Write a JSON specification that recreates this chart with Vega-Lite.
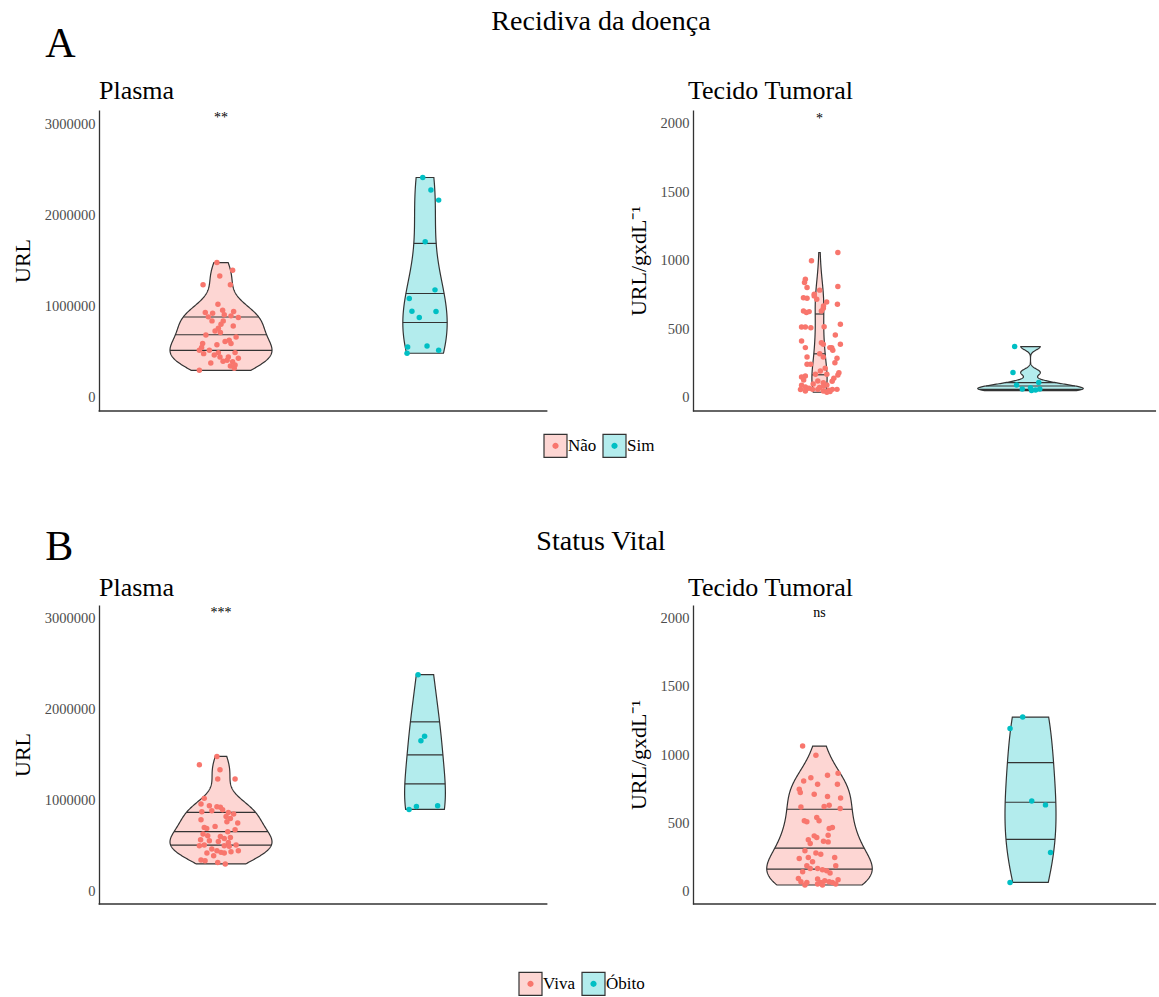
{
"$schema": "https://vega.github.io/schema/vega-lite/v6.json",
"padding": {"left": 11, "top": 8, "right": 0, "bottom": 0},
"background": "white",
"config": {
  "view": {"stroke": null},
  "font": "Liberation Serif",
  "title": {"font": "Liberation Serif", "fontWeight": "normal", "color": "#000000", "baseline": "alphabetic"},
  "axis": {"grid": false, "ticks": false, "labelFont": "Liberation Serif", "labelFontSize": 14.5, "labelColor": "#4D4D4D", "titleFont": "Liberation Serif", "titleFontSize": 22, "titleFontWeight": "normal", "titleColor": "#000000", "domainColor": "#333333", "domainWidth": 1.3},
  "legend": {"labelFont": "Liberation Serif"}
},
"datasets": {
  "AP": [
    {"g":"Não","q1":520000,"q2":688000,"q3":886000},{"g":"Sim","q1":823000,"q2":1146000,"q3":1690000},
    {"g":"Não","v":1481000,"j":-0.02},{"g":"Não","v":1398000,"j":0.057},{"g":"Não","v":1335000,"j":-0.006},{"g":"Não","v":1237000,"j":-0.088},{"g":"Não","v":1237000,"j":0.046},
    {"g":"Não","v":1025000,"j":-0.015},{"g":"Não","v":933000,"j":-0.077},{"g":"Não","v":926000,"j":-0.041},{"g":"Não","v":959000,"j":0.008},{"g":"Não","v":944000,"j":0.062},
    {"g":"Não","v":886000,"j":-0.062},{"g":"Não","v":908000,"j":0.016},{"g":"Não","v":878000,"j":0.085},{"g":"Não","v":897000,"j":0.049},{"g":"Não","v":842000,"j":-0.044},
    {"g":"Não","v":842000,"j":0.011},{"g":"Não","v":806000,"j":0.0},{"g":"Não","v":787000,"j":0.06},{"g":"Não","v":762000,"j":-0.013},{"g":"Não","v":732000,"j":-0.029},
    {"g":"Não","v":714000,"j":-0.003},{"g":"Não","v":688000,"j":-0.074},{"g":"Não","v":666000,"j":0.074},{"g":"Não","v":615000,"j":0.02},{"g":"Não","v":593000,"j":0.049},
    {"g":"Não","v":593000,"j":-0.09},{"g":"Não","v":549000,"j":-0.095},{"g":"Não","v":520000,"j":-0.106},{"g":"Não","v":520000,"j":-0.057},{"g":"Não","v":483000,"j":-0.085},
    {"g":"Não","v":469000,"j":-0.033},{"g":"Não","v":447000,"j":-0.005},{"g":"Não","v":494000,"j":-0.013},{"g":"Não","v":447000,"j":0.036},{"g":"Não","v":494000,"j":0.069},
    {"g":"Não","v":432000,"j":0.085},{"g":"Não","v":410000,"j":0.03},{"g":"Não","v":395000,"j":0.057},{"g":"Não","v":348000,"j":0.046},{"g":"Não","v":323000,"j":0.065},
    {"g":"Não","v":300000,"j":-0.106},{"g":"Não","v":359000,"j":0.069},{"g":"Não","v":630000,"j":0.04},{"g":"Não","v":580000,"j":-0.02},{"g":"Não","v":400000,"j":0.01},
    {"g":"Não","v":380000,"j":-0.05},
    {"g":"Sim","v":2414000,"j":-0.011},{"g":"Sim","v":2276000,"j":0.029},{"g":"Sim","v":2166000,"j":0.067},{"g":"Sim","v":1709000,"j":0.001},{"g":"Sim","v":1182000,"j":0.049},
    {"g":"Sim","v":1087000,"j":-0.077},{"g":"Sim","v":948000,"j":-0.064},{"g":"Sim","v":944000,"j":0.054},{"g":"Sim","v":878000,"j":-0.028},{"g":"Sim","v":556000,"j":-0.085},
    {"g":"Sim","v":567000,"j":0.01},{"g":"Sim","v":520000,"j":0.067},{"g":"Sim","v":487000,"j":-0.088}
  ],
  "AT": [
    {"g":"Não","q1":170,"q2":322,"q3":612},{"g":"Sim","q1":61,"q2":86,"q3":110},
    {"g":"Não","v":1000,"j":-0.038},{"g":"Não","v":866,"j":-0.067},{"g":"Não","v":841,"j":-0.071},{"g":"Não","v":805,"j":-0.059},{"g":"Não","v":756,"j":-0.025},
    {"g":"Não","v":731,"j":-0.076},{"g":"Não","v":727,"j":-0.059},{"g":"Não","v":720,"j":-0.013},{"g":"Não","v":634,"j":-0.076},{"g":"Não","v":622,"j":-0.062},
    {"g":"Não","v":629,"j":-0.049},{"g":"Não","v":517,"j":-0.085},{"g":"Não","v":517,"j":-0.067},{"g":"Não","v":512,"j":-0.041},{"g":"Não","v":415,"j":-0.085},
    {"g":"Não","v":366,"j":-0.067},{"g":"Não","v":298,"j":-0.059},{"g":"Não","v":244,"j":-0.042},{"g":"Não","v":244,"j":-0.059},{"g":"Não","v":159,"j":-0.067},
    {"g":"Não","v":151,"j":-0.085},{"g":"Não","v":91,"j":-0.085},{"g":"Não","v":78,"j":-0.067},{"g":"Não","v":61,"j":-0.033},{"g":"Não","v":49,"j":-0.067},
    {"g":"Não","v":786,"j":0.001},{"g":"Não","v":744,"j":-0.025},{"g":"Não","v":654,"j":0.018},{"g":"Não","v":671,"j":0.019},{"g":"Não","v":700,"j":0.034},
    {"g":"Não","v":634,"j":0.009},{"g":"Não","v":519,"j":0.022},{"g":"Não","v":402,"j":0.009},{"g":"Não","v":391,"j":0.018},{"g":"Não","v":366,"j":0.049},
    {"g":"Não","v":322,"j":0.001},{"g":"Não","v":298,"j":0.018},{"g":"Não","v":215,"j":0.027},{"g":"Não","v":195,"j":0.004},{"g":"Não","v":171,"j":0.035},
    {"g":"Não","v":171,"j":-0.019},{"g":"Não","v":122,"j":-0.008},{"g":"Não","v":110,"j":0.018},{"g":"Não","v":93,"j":0.035},{"g":"Não","v":61,"j":-0.008},
    {"g":"Não","v":49,"j":0.018},{"g":"Não","v":55,"j":0.044},
    {"g":"Não","v":1061,"j":0.087},{"g":"Não","v":812,"j":0.087},{"g":"Não","v":683,"j":0.085},{"g":"Não","v":537,"j":0.099},{"g":"Não","v":459,"j":0.075},
    {"g":"Não","v":391,"j":0.099},{"g":"Não","v":366,"j":0.058},{"g":"Não","v":347,"j":0.063},{"g":"Não","v":288,"j":0.083},{"g":"Não","v":256,"j":0.073},
    {"g":"Não","v":183,"j":0.092},{"g":"Não","v":166,"j":0.087},{"g":"Não","v":142,"j":0.068},{"g":"Não","v":61,"j":0.083},{"g":"Não","v":61,"j":0.061},
    {"g":"Não","v":40,"j":0.035},
    {"g":"Não","v":70,"j":-0.05},{"g":"Não","v":75,"j":0.0},{"g":"Não","v":45,"j":0.05},{"g":"Não","v":60,"j":-0.09},{"g":"Não","v":85,"j":0.02},
    {"g":"Não","v":100,"j":-0.03},{"g":"Não","v":120,"j":0.06},{"g":"Não","v":130,"j":-0.075},
    {"g":"Sim","v":374,"j":-0.075},{"g":"Sim","v":185,"j":-0.083},{"g":"Sim","v":93,"j":-0.066},{"g":"Sim","v":64,"j":-0.039},{"g":"Sim","v":73,"j":0.0},
    {"g":"Sim","v":52,"j":0.005},{"g":"Sim","v":112,"j":0.039},{"g":"Sim","v":64,"j":0.044},{"g":"Sim","v":56,"j":0.024}
  ],
  "BP": [
    {"g":"Viva","q1":512000,"q2":658000,"q3":869000},{"g":"Óbito","q1":1180000,"q2":1498000,"q3":1860000},
    {"g":"Viva","v":1483000,"j":-0.02},{"g":"Viva","v":1392000,"j":-0.106},{"g":"Viva","v":1337000,"j":-0.005},{"g":"Viva","v":1235000,"j":-0.016},{"g":"Viva","v":1235000,"j":0.069},
    {"g":"Viva","v":1023000,"j":-0.082},{"g":"Viva","v":961000,"j":-0.098},{"g":"Viva","v":943000,"j":-0.057},{"g":"Viva","v":932000,"j":-0.02},{"g":"Viva","v":925000,"j":-0.003},
    {"g":"Viva","v":899000,"j":0.008},{"g":"Viva","v":888000,"j":-0.045},{"g":"Viva","v":877000,"j":-0.094},{"g":"Viva","v":869000,"j":0.036},{"g":"Viva","v":851000,"j":0.062},
    {"g":"Viva","v":825000,"j":0.025},{"g":"Viva","v":803000,"j":0.046},{"g":"Viva","v":789000,"j":-0.098},{"g":"Viva","v":767000,"j":0.029},{"g":"Viva","v":753000,"j":0.082},
    {"g":"Viva","v":716000,"j":-0.029},{"g":"Viva","v":705000,"j":-0.082},{"g":"Viva","v":694000,"j":-0.07},{"g":"Viva","v":680000,"j":0.069},{"g":"Viva","v":658000,"j":0.033},
    {"g":"Viva","v":632000,"j":-0.088},{"g":"Viva","v":614000,"j":-0.065},{"g":"Viva","v":606000,"j":-0.003},{"g":"Viva","v":584000,"j":0.016},{"g":"Viva","v":595000,"j":0.046},
    {"g":"Viva","v":570000,"j":-0.1},{"g":"Viva","v":559000,"j":-0.057},{"g":"Viva","v":551000,"j":-0.013},{"g":"Viva","v":540000,"j":0.036},{"g":"Viva","v":512000,"j":-0.082},
    {"g":"Viva","v":504000,"j":-0.106},{"g":"Viva","v":504000,"j":0.016},{"g":"Viva","v":497000,"j":0.04},{"g":"Viva","v":512000,"j":0.074},{"g":"Viva","v":468000,"j":-0.045},
    {"g":"Viva","v":449000,"j":-0.02},{"g":"Viva","v":431000,"j":0.0},{"g":"Viva","v":438000,"j":0.049},{"g":"Viva","v":449000,"j":0.085},{"g":"Viva","v":424000,"j":-0.069},
    {"g":"Viva","v":395000,"j":-0.036},{"g":"Viva","v":424000,"j":0.016},{"g":"Viva","v":347000,"j":-0.098},{"g":"Viva","v":340000,"j":-0.078},{"g":"Viva","v":321000,"j":-0.016},
    {"g":"Viva","v":304000,"j":0.021},
    {"g":"Óbito","v":2379000,"j":-0.034},{"g":"Óbito","v":1655000,"j":-0.02},{"g":"Óbito","v":1703000,"j":-0.002},{"g":"Óbito","v":902000,"j":-0.078},{"g":"Óbito","v":935000,"j":-0.042},
    {"g":"Óbito","v":943000,"j":0.062}
  ],
  "BT": [
    {"g":"Viva","q1":166,"q2":317,"q3":603},{"g":"Óbito","q1":385,"q2":658,"q3":945},
    {"g":"Viva","v":1067,"j":-0.08},{"g":"Viva","v":999,"j":-0.017},{"g":"Viva","v":811,"j":-0.075},{"g":"Viva","v":835,"j":-0.041},{"g":"Viva","v":853,"j":0.038},
    {"g":"Viva","v":867,"j":0.088},{"g":"Viva","v":787,"j":-0.009},{"g":"Viva","v":750,"j":-0.096},{"g":"Viva","v":726,"j":-0.091},{"g":"Viva","v":787,"j":0.085},
    {"g":"Viva","v":714,"j":-0.025},{"g":"Viva","v":697,"j":0.038},{"g":"Viva","v":687,"j":0.1},{"g":"Viva","v":621,"j":-0.088},{"g":"Viva","v":624,"j":0.022},
    {"g":"Viva","v":634,"j":0.046},{"g":"Viva","v":609,"j":0.098},{"g":"Viva","v":519,"j":-0.072},{"g":"Viva","v":512,"j":-0.06},{"g":"Viva","v":543,"j":-0.013},
    {"g":"Viva","v":519,"j":-0.002},{"g":"Viva","v":463,"j":0.046},{"g":"Viva","v":470,"j":0.061},{"g":"Viva","v":414,"j":0.041},{"g":"Viva","v":409,"j":-0.025},
    {"g":"Viva","v":397,"j":-0.013},{"g":"Viva","v":380,"j":-0.053},{"g":"Viva","v":353,"j":-0.044},{"g":"Viva","v":370,"j":0.019},{"g":"Viva","v":365,"j":0.041},
    {"g":"Viva","v":300,"j":-0.069},{"g":"Viva","v":283,"j":-0.017},{"g":"Viva","v":275,"j":0.006},{"g":"Viva","v":243,"j":-0.096},{"g":"Viva","v":251,"j":-0.053},
    {"g":"Viva","v":219,"j":-0.033},{"g":"Viva","v":251,"j":0.072},{"g":"Viva","v":190,"j":-0.06},{"g":"Viva","v":170,"j":-0.044},{"g":"Viva","v":190,"j":0.077},
    {"g":"Viva","v":170,"j":-0.009},{"g":"Viva","v":161,"j":0.014},{"g":"Viva","v":153,"j":0.034},{"g":"Viva","v":146,"j":-0.08},{"g":"Viva","v":137,"j":0.05},
    {"g":"Viva","v":97,"j":-0.1},{"g":"Viva","v":73,"j":-0.088},{"g":"Viva","v":68,"j":-0.06},{"g":"Viva","v":49,"j":-0.069},{"g":"Viva","v":93,"j":-0.009},
    {"g":"Viva","v":68,"j":0.006},{"g":"Viva","v":80,"j":0.025},{"g":"Viva","v":56,"j":-0.009},{"g":"Viva","v":49,"j":0.014},{"g":"Viva","v":73,"j":0.046},
    {"g":"Viva","v":68,"j":0.061},{"g":"Viva","v":56,"j":0.077},{"g":"Viva","v":88,"j":0.088},
    {"g":"Óbito","v":1279,"j":-0.037},{"g":"Óbito","v":1196,"j":-0.097},{"g":"Óbito","v":665,"j":0.006},{"g":"Óbito","v":636,"j":0.071},{"g":"Óbito","v":287,"j":0.095},
    {"g":"Óbito","v":68,"j":-0.097}
  ]
},
"spacing": 66,
"resolve": {"scale": {"color": "independent", "fill": "independent"}, "legend": {"color": "independent", "fill": "independent"}},
"vconcat": [
 {
  "title": {"text": "Recidiva da doença", "anchor": "middle", "fontSize": 28, "offset": -13, "dx": 17},
  "vconcat": [
   {
    "title": {"text": "A", "anchor": "start", "fontSize": 42, "offset": 12, "dx": 34},
    "spacing": 78,
    "hconcat": [
     {
      "data": {"name": "AP"},
      "title": {"text": "Plasma", "anchor": "start", "frame": "group", "fontSize": 26, "offset": 6, "dx": -20},
      "spacing": 0,
      "bounds": "flush",
      "hconcat": [
       {
        "width": 204, "height": 301,
        "resolve": {"scale": {"x": "independent"}},
        "layer": [
         {
          "transform": [{"filter": "isValid(datum.v)"}, {"density": "v", "groupby": ["g"], "steps": 200, "resolve": "independent"}, {"stack": "density", "groupby": ["value", "g"], "offset": "center", "as": ["x0", "x1"]}],
          "mark": {"type": "area", "orient": "horizontal", "stroke": "#333333", "strokeWidth": 1.2},
          "encoding": {
           "y": {"field": "value", "type": "quantitative", "scale": {"domain": [-146000, 3154000], "nice": false, "zero": false}, "axis": {"title": "URL", "values": [0, 1000000, 2000000, 3000000], "format": "d", "offset": 20, "labelPadding": 4, "titlePadding": 10}},
           "x": {"field": "x0", "type": "quantitative", "scale": {"range": [51, 153], "nice": false, "zero": false}, "axis": null},
           "x2": {"field": "x1"},
           "color": {"field": "g", "type": "nominal", "scale": {"range": ["#FDD6D3", "#B3ECED"]}, "legend": {"title": null, "orient": "none", "legendX": 424, "legendY": 323, "direction": "horizontal", "symbolType": "square", "symbolSize": 529, "symbolStrokeWidth": 1.2, "labelFontSize": 17, "labelColor": "#000000", "labelOffset": 0, "columnPadding": 3, "padding": 0, "symbolOpacity": 1}},
           "opacity": {"condition": {"test": "datum.g == 'Não'", "value": 1}, "value": 0}
          }
         },
         {
          "transform": [
           {"joinaggregate": [{"op": "max", "field": "q1", "as": "q1"}, {"op": "max", "field": "q2", "as": "q2"}, {"op": "max", "field": "q3", "as": "q3"}], "groupby": ["g"]},
           {"filter": "isValid(datum.v)"},
           {"density": "v", "groupby": ["g", "q1", "q2", "q3"], "steps": 200, "resolve": "independent"},
           {"stack": "density", "groupby": ["value", "g"], "offset": "center", "as": ["x0", "x1"]},
           {"joinaggregate": [{"op": "min", "field": "value", "as": "vmin"}, {"op": "max", "field": "value", "as": "vmax"}], "groupby": ["g"]}
          ],
          "mark": {"type": "rule", "color": "#333333", "strokeWidth": 1.2},
          "encoding": {
           "y": {"field": "value", "type": "quantitative", "scale": {"domain": [-146000, 3154000], "nice": false, "zero": false}, "axis": {"title": "URL", "values": [0, 1000000, 2000000, 3000000], "format": "d", "offset": 20, "labelPadding": 4, "titlePadding": 10}},
           "x": {"field": "x0", "type": "quantitative", "scale": {"range": [51, 153], "nice": false, "zero": false}, "axis": null},
           "x2": {"field": "x1"},
           "strokeOpacity": {"condition": {"test": "datum.g == 'Não' && (abs(datum.value-datum.q1)<=(datum.vmax-datum.vmin)/399.9 || abs(datum.value-datum.q2)<=(datum.vmax-datum.vmin)/399.9 || abs(datum.value-datum.q3)<=(datum.vmax-datum.vmin)/399.9)", "value": 1}, "value": 0}
          }
         },
         {
          "transform": [{"filter": "datum.g == 'Não' && isValid(datum.v)"}],
          "mark": {"type": "point", "filled": true, "size": 30, "opacity": 1, "stroke": "transparent", "strokeWidth": 1.2},
          "encoding": {
           "x": {"field": "j", "type": "quantitative", "scale": {"domain": [-0.6, 0.6], "range": [-20.4, 224.4], "nice": false, "zero": false}, "axis": null},
           "y": {"field": "v", "type": "quantitative", "scale": {"domain": [-146000, 3154000], "nice": false, "zero": false}, "axis": {"title": "URL", "values": [0, 1000000, 2000000, 3000000], "format": "d", "offset": 20, "labelPadding": 4, "titlePadding": 10}},
           "fill": {"field": "g", "type": "nominal", "scale": {"domain": ["Não", "Sim"], "range": ["#F8766D", "#00BFC4"]}, "legend": {"title": null, "orient": "none", "legendX": 424, "legendY": 323, "direction": "horizontal", "symbolType": "M-1,-1M1,1M-0.27,0A0.27,0.27,0,1,0,0.27,0A0.27,0.27,0,1,0,-0.27,0Z", "symbolSize": 529, "symbolStrokeWidth": 1.2, "symbolStrokeColor": "transparent", "labelFontSize": 17, "labelColor": "transparent", "labelOffset": 0, "columnPadding": 3, "padding": 0, "symbolOpacity": 1}}
          }
         },
         {
          "transform": [{"aggregate": [{"op": "count", "as": "n"}]}],
          "mark": {"type": "rule", "color": "#333333", "strokeWidth": 1.3},
          "encoding": {
           "x": {"datum": -0.6, "type": "quantitative", "scale": {"domain": [-0.6, 0.6], "range": [-20.4, 224.4], "nice": false, "zero": false}, "axis": null},
           "x2": {"datum": 0.5},
           "y": {"datum": -146000, "type": "quantitative", "scale": {"domain": [-146000, 3154000], "nice": false, "zero": false}, "axis": {"title": "URL", "values": [0, 1000000, 2000000, 3000000], "format": "d", "offset": 20, "labelPadding": 4, "titlePadding": 10}}
          }
         },
         {
          "transform": [{"aggregate": [{"op": "count", "as": "n"}]}],
          "mark": {"type": "text", "fontSize": 14, "baseline": "alphabetic", "font": "Liberation Serif", "color": "#000000"},
          "encoding": {
           "x": {"datum": 0, "type": "quantitative", "scale": {"domain": [-0.6, 0.6], "range": [-20.4, 224.4], "nice": false, "zero": false}, "axis": null},
           "y": {"datum": 3025000, "type": "quantitative", "scale": {"domain": [-146000, 3154000], "nice": false, "zero": false}, "axis": {"title": "URL", "values": [0, 1000000, 2000000, 3000000], "format": "d", "offset": 20, "labelPadding": 4, "titlePadding": 10}},
           "text": {"value": "**"}
          }
         }
        ]
       },
       {
        "width": 204, "height": 301,
        "resolve": {"scale": {"x": "independent"}},
        "layer": [
         {
          "transform": [{"filter": "isValid(datum.v)"}, {"density": "v", "groupby": ["g"], "steps": 200, "resolve": "independent"}, {"stack": "density", "groupby": ["value", "g"], "offset": "center", "as": ["x0", "x1"]}],
          "mark": {"type": "area", "orient": "horizontal", "stroke": "#333333", "strokeWidth": 1.2},
          "encoding": {
           "y": {"field": "value", "type": "quantitative", "scale": {"domain": [-146000, 3154000], "nice": false, "zero": false}, "axis": null},
           "x": {"field": "x0", "type": "quantitative", "scale": {"range": [51, 153], "nice": false, "zero": false}, "axis": null},
           "x2": {"field": "x1"},
           "color": {"field": "g", "type": "nominal", "scale": {"range": ["#FDD6D3", "#B3ECED"]}, "legend": {"title": null, "orient": "none", "legendX": 424, "legendY": 323, "direction": "horizontal", "symbolType": "square", "symbolSize": 529, "symbolStrokeWidth": 1.2, "labelFontSize": 17, "labelColor": "#000000", "labelOffset": 0, "columnPadding": 3, "padding": 0, "symbolOpacity": 1}},
           "opacity": {"condition": {"test": "datum.g == 'Sim'", "value": 1}, "value": 0}
          }
         },
         {
          "transform": [
           {"joinaggregate": [{"op": "max", "field": "q1", "as": "q1"}, {"op": "max", "field": "q2", "as": "q2"}, {"op": "max", "field": "q3", "as": "q3"}], "groupby": ["g"]},
           {"filter": "isValid(datum.v)"},
           {"density": "v", "groupby": ["g", "q1", "q2", "q3"], "steps": 200, "resolve": "independent"},
           {"stack": "density", "groupby": ["value", "g"], "offset": "center", "as": ["x0", "x1"]},
           {"joinaggregate": [{"op": "min", "field": "value", "as": "vmin"}, {"op": "max", "field": "value", "as": "vmax"}], "groupby": ["g"]}
          ],
          "mark": {"type": "rule", "color": "#333333", "strokeWidth": 1.2},
          "encoding": {
           "y": {"field": "value", "type": "quantitative", "scale": {"domain": [-146000, 3154000], "nice": false, "zero": false}, "axis": null},
           "x": {"field": "x0", "type": "quantitative", "scale": {"range": [51, 153], "nice": false, "zero": false}, "axis": null},
           "x2": {"field": "x1"},
           "strokeOpacity": {"condition": {"test": "datum.g == 'Sim' && (abs(datum.value-datum.q1)<=(datum.vmax-datum.vmin)/399.9 || abs(datum.value-datum.q2)<=(datum.vmax-datum.vmin)/399.9 || abs(datum.value-datum.q3)<=(datum.vmax-datum.vmin)/399.9)", "value": 1}, "value": 0}
          }
         },
         {
          "transform": [{"filter": "datum.g == 'Sim' && isValid(datum.v)"}],
          "mark": {"type": "point", "filled": true, "size": 30, "opacity": 1, "stroke": "transparent", "strokeWidth": 1.2},
          "encoding": {
           "x": {"field": "j", "type": "quantitative", "scale": {"domain": [-0.6, 0.6], "range": [-20.4, 224.4], "nice": false, "zero": false}, "axis": null},
           "y": {"field": "v", "type": "quantitative", "scale": {"domain": [-146000, 3154000], "nice": false, "zero": false}, "axis": null},
           "fill": {"field": "g", "type": "nominal", "scale": {"domain": ["Não", "Sim"], "range": ["#F8766D", "#00BFC4"]}, "legend": {"title": null, "orient": "none", "legendX": 424, "legendY": 323, "direction": "horizontal", "symbolType": "M-1,-1M1,1M-0.27,0A0.27,0.27,0,1,0,0.27,0A0.27,0.27,0,1,0,-0.27,0Z", "symbolSize": 529, "symbolStrokeWidth": 1.2, "symbolStrokeColor": "transparent", "labelFontSize": 17, "labelColor": "transparent", "labelOffset": 0, "columnPadding": 3, "padding": 0, "symbolOpacity": 1}}
          }
         },
         {
          "transform": [{"aggregate": [{"op": "count", "as": "n"}]}],
          "mark": {"type": "rule", "color": "#333333", "strokeWidth": 1.3},
          "encoding": {
           "x": {"datum": -0.5, "type": "quantitative", "scale": {"domain": [-0.6, 0.6], "range": [-20.4, 224.4], "nice": false, "zero": false}, "axis": null},
           "x2": {"datum": 0.6},
           "y": {"datum": -146000, "type": "quantitative", "scale": {"domain": [-146000, 3154000], "nice": false, "zero": false}, "axis": null}
          }
         }
        ]
       }
      ]
     },
     {
      "data": {"name": "AT"},
      "title": {"text": "Tecido Tumoral", "anchor": "start", "frame": "group", "fontSize": 26, "offset": 6, "dx": -26},
      "spacing": 0,
      "bounds": "flush",
      "hconcat": [
       {
        "width": 211, "height": 301,
        "resolve": {"scale": {"x": "independent"}},
        "layer": [
         {
          "transform": [{"filter": "isValid(datum.v)"}, {"density": "v", "groupby": ["g"], "steps": 200, "resolve": "independent"}, {"stack": "density", "groupby": ["value", "g"], "offset": "center", "as": ["x0", "x1"]}],
          "mark": {"type": "area", "orient": "horizontal", "stroke": "#333333", "strokeWidth": 1.2},
          "encoding": {
           "y": {"field": "value", "type": "quantitative", "scale": {"domain": [-97, 2102], "nice": false, "zero": false}, "axis": {"title": "URL/gxdL⁻¹", "values": [0, 500, 1000, 1500, 2000], "format": "d", "offset": 21, "labelPadding": 4, "titlePadding": 10}},
           "x": {"field": "x0", "type": "quantitative", "scale": {"range": [52.75, 158.25], "nice": false, "zero": false}, "axis": null},
           "x2": {"field": "x1"},
           "color": {"field": "g", "type": "nominal", "scale": {"range": ["#FDD6D3", "#B3ECED"]}, "legend": {"title": null, "orient": "none", "legendX": 424, "legendY": 323, "direction": "horizontal", "symbolType": "square", "symbolSize": 529, "symbolStrokeWidth": 1.2, "labelFontSize": 17, "labelColor": "#000000", "labelOffset": 0, "columnPadding": 3, "padding": 0, "symbolOpacity": 1}},
           "opacity": {"condition": {"test": "datum.g == 'Não'", "value": 1}, "value": 0}
          }
         },
         {
          "transform": [
           {"joinaggregate": [{"op": "max", "field": "q1", "as": "q1"}, {"op": "max", "field": "q2", "as": "q2"}, {"op": "max", "field": "q3", "as": "q3"}], "groupby": ["g"]},
           {"filter": "isValid(datum.v)"},
           {"density": "v", "groupby": ["g", "q1", "q2", "q3"], "steps": 200, "resolve": "independent"},
           {"stack": "density", "groupby": ["value", "g"], "offset": "center", "as": ["x0", "x1"]},
           {"joinaggregate": [{"op": "min", "field": "value", "as": "vmin"}, {"op": "max", "field": "value", "as": "vmax"}], "groupby": ["g"]}
          ],
          "mark": {"type": "rule", "color": "#333333", "strokeWidth": 1.2},
          "encoding": {
           "y": {"field": "value", "type": "quantitative", "scale": {"domain": [-97, 2102], "nice": false, "zero": false}, "axis": {"title": "URL/gxdL⁻¹", "values": [0, 500, 1000, 1500, 2000], "format": "d", "offset": 21, "labelPadding": 4, "titlePadding": 10}},
           "x": {"field": "x0", "type": "quantitative", "scale": {"range": [52.75, 158.25], "nice": false, "zero": false}, "axis": null},
           "x2": {"field": "x1"},
           "strokeOpacity": {"condition": {"test": "datum.g == 'Não' && (abs(datum.value-datum.q1)<=(datum.vmax-datum.vmin)/399.9 || abs(datum.value-datum.q2)<=(datum.vmax-datum.vmin)/399.9 || abs(datum.value-datum.q3)<=(datum.vmax-datum.vmin)/399.9)", "value": 1}, "value": 0}
          }
         },
         {
          "transform": [{"filter": "datum.g == 'Não' && isValid(datum.v)"}],
          "mark": {"type": "point", "filled": true, "size": 30, "opacity": 1, "stroke": "transparent", "strokeWidth": 1.2},
          "encoding": {
           "x": {"field": "j", "type": "quantitative", "scale": {"domain": [-0.6, 0.6], "range": [-21.1, 232.1], "nice": false, "zero": false}, "axis": null},
           "y": {"field": "v", "type": "quantitative", "scale": {"domain": [-97, 2102], "nice": false, "zero": false}, "axis": {"title": "URL/gxdL⁻¹", "values": [0, 500, 1000, 1500, 2000], "format": "d", "offset": 21, "labelPadding": 4, "titlePadding": 10}},
           "fill": {"field": "g", "type": "nominal", "scale": {"domain": ["Não", "Sim"], "range": ["#F8766D", "#00BFC4"]}, "legend": {"title": null, "orient": "none", "legendX": 424, "legendY": 323, "direction": "horizontal", "symbolType": "M-1,-1M1,1M-0.27,0A0.27,0.27,0,1,0,0.27,0A0.27,0.27,0,1,0,-0.27,0Z", "symbolSize": 529, "symbolStrokeWidth": 1.2, "symbolStrokeColor": "transparent", "labelFontSize": 17, "labelColor": "transparent", "labelOffset": 0, "columnPadding": 3, "padding": 0, "symbolOpacity": 1}}
          }
         },
         {
          "transform": [{"aggregate": [{"op": "count", "as": "n"}]}],
          "mark": {"type": "rule", "color": "#333333", "strokeWidth": 1.3},
          "encoding": {
           "x": {"datum": -0.6, "type": "quantitative", "scale": {"domain": [-0.6, 0.6], "range": [-21.1, 232.1], "nice": false, "zero": false}, "axis": null},
           "x2": {"datum": 0.5},
           "y": {"datum": -97, "type": "quantitative", "scale": {"domain": [-97, 2102], "nice": false, "zero": false}, "axis": {"title": "URL/gxdL⁻¹", "values": [0, 500, 1000, 1500, 2000], "format": "d", "offset": 21, "labelPadding": 4, "titlePadding": 10}}
          }
         },
         {
          "transform": [{"aggregate": [{"op": "count", "as": "n"}]}],
          "mark": {"type": "text", "fontSize": 14, "baseline": "alphabetic", "font": "Liberation Serif", "color": "#000000"},
          "encoding": {
           "x": {"datum": 0, "type": "quantitative", "scale": {"domain": [-0.6, 0.6], "range": [-21.1, 232.1], "nice": false, "zero": false}, "axis": null},
           "y": {"datum": 2010, "type": "quantitative", "scale": {"domain": [-97, 2102], "nice": false, "zero": false}, "axis": {"title": "URL/gxdL⁻¹", "values": [0, 500, 1000, 1500, 2000], "format": "d", "offset": 21, "labelPadding": 4, "titlePadding": 10}},
           "text": {"value": "*"}
          }
         }
        ]
       },
       {
        "width": 211, "height": 301,
        "resolve": {"scale": {"x": "independent"}},
        "layer": [
         {
          "transform": [{"filter": "isValid(datum.v)"}, {"density": "v", "groupby": ["g"], "steps": 200, "resolve": "independent"}, {"stack": "density", "groupby": ["value", "g"], "offset": "center", "as": ["x0", "x1"]}],
          "mark": {"type": "area", "orient": "horizontal", "stroke": "#333333", "strokeWidth": 1.2},
          "encoding": {
           "y": {"field": "value", "type": "quantitative", "scale": {"domain": [-97, 2102], "nice": false, "zero": false}, "axis": null},
           "x": {"field": "x0", "type": "quantitative", "scale": {"range": [52.75, 158.25], "nice": false, "zero": false}, "axis": null},
           "x2": {"field": "x1"},
           "color": {"field": "g", "type": "nominal", "scale": {"range": ["#FDD6D3", "#B3ECED"]}, "legend": {"title": null, "orient": "none", "legendX": 424, "legendY": 323, "direction": "horizontal", "symbolType": "square", "symbolSize": 529, "symbolStrokeWidth": 1.2, "labelFontSize": 17, "labelColor": "#000000", "labelOffset": 0, "columnPadding": 3, "padding": 0, "symbolOpacity": 1}},
           "opacity": {"condition": {"test": "datum.g == 'Sim'", "value": 1}, "value": 0}
          }
         },
         {
          "transform": [
           {"joinaggregate": [{"op": "max", "field": "q1", "as": "q1"}, {"op": "max", "field": "q2", "as": "q2"}, {"op": "max", "field": "q3", "as": "q3"}], "groupby": ["g"]},
           {"filter": "isValid(datum.v)"},
           {"density": "v", "groupby": ["g", "q1", "q2", "q3"], "steps": 200, "resolve": "independent"},
           {"stack": "density", "groupby": ["value", "g"], "offset": "center", "as": ["x0", "x1"]},
           {"joinaggregate": [{"op": "min", "field": "value", "as": "vmin"}, {"op": "max", "field": "value", "as": "vmax"}], "groupby": ["g"]}
          ],
          "mark": {"type": "rule", "color": "#333333", "strokeWidth": 1.2},
          "encoding": {
           "y": {"field": "value", "type": "quantitative", "scale": {"domain": [-97, 2102], "nice": false, "zero": false}, "axis": null},
           "x": {"field": "x0", "type": "quantitative", "scale": {"range": [52.75, 158.25], "nice": false, "zero": false}, "axis": null},
           "x2": {"field": "x1"},
           "strokeOpacity": {"condition": {"test": "datum.g == 'Sim' && (abs(datum.value-datum.q1)<=(datum.vmax-datum.vmin)/399.9 || abs(datum.value-datum.q2)<=(datum.vmax-datum.vmin)/399.9 || abs(datum.value-datum.q3)<=(datum.vmax-datum.vmin)/399.9)", "value": 1}, "value": 0}
          }
         },
         {
          "transform": [{"filter": "datum.g == 'Sim' && isValid(datum.v)"}],
          "mark": {"type": "point", "filled": true, "size": 30, "opacity": 1, "stroke": "transparent", "strokeWidth": 1.2},
          "encoding": {
           "x": {"field": "j", "type": "quantitative", "scale": {"domain": [-0.6, 0.6], "range": [-21.1, 232.1], "nice": false, "zero": false}, "axis": null},
           "y": {"field": "v", "type": "quantitative", "scale": {"domain": [-97, 2102], "nice": false, "zero": false}, "axis": null},
           "fill": {"field": "g", "type": "nominal", "scale": {"domain": ["Não", "Sim"], "range": ["#F8766D", "#00BFC4"]}, "legend": {"title": null, "orient": "none", "legendX": 424, "legendY": 323, "direction": "horizontal", "symbolType": "M-1,-1M1,1M-0.27,0A0.27,0.27,0,1,0,0.27,0A0.27,0.27,0,1,0,-0.27,0Z", "symbolSize": 529, "symbolStrokeWidth": 1.2, "symbolStrokeColor": "transparent", "labelFontSize": 17, "labelColor": "transparent", "labelOffset": 0, "columnPadding": 3, "padding": 0, "symbolOpacity": 1}}
          }
         },
         {
          "transform": [{"aggregate": [{"op": "count", "as": "n"}]}],
          "mark": {"type": "rule", "color": "#333333", "strokeWidth": 1.3},
          "encoding": {
           "x": {"datum": -0.5, "type": "quantitative", "scale": {"domain": [-0.6, 0.6], "range": [-21.1, 232.1], "nice": false, "zero": false}, "axis": null},
           "x2": {"datum": 0.595},
           "y": {"datum": -97, "type": "quantitative", "scale": {"domain": [-97, 2102], "nice": false, "zero": false}, "axis": null}
          }
         }
        ]
       }
      ]
     }
    ]
   }
  ]
 },
 {
  "title": {"text": "Status Vital", "anchor": "middle", "fontSize": 28, "offset": -30, "dx": 17},
  "vconcat": [
   {
    "title": {"text": "B", "anchor": "start", "fontSize": 42, "offset": 6, "dx": 34},
    "spacing": 78,
    "hconcat": [
     {
      "data": {"name": "BP"},
      "title": {"text": "Plasma", "anchor": "start", "frame": "group", "fontSize": 26, "offset": 4, "dx": -20},
      "spacing": 0,
      "bounds": "flush",
      "hconcat": [
       {
        "width": 204, "height": 299,
        "resolve": {"scale": {"x": "independent"}},
        "layer": [
         {
          "transform": [{"filter": "isValid(datum.v)"}, {"density": "v", "groupby": ["g"], "steps": 200, "resolve": "independent"}, {"stack": "density", "groupby": ["value", "g"], "offset": "center", "as": ["x0", "x1"]}],
          "mark": {"type": "area", "orient": "horizontal", "stroke": "#333333", "strokeWidth": 1.2},
          "encoding": {
           "y": {"field": "value", "type": "quantitative", "scale": {"domain": [-135000, 3143000], "nice": false, "zero": false}, "axis": {"title": "URL", "values": [0, 1000000, 2000000, 3000000], "format": "d", "offset": 20, "labelPadding": 4, "titlePadding": 10}},
           "x": {"field": "x0", "type": "quantitative", "scale": {"range": [51, 153], "nice": false, "zero": false}, "axis": null},
           "x2": {"field": "x1"},
           "color": {"field": "g", "type": "nominal", "scale": {"range": ["#FDD6D3", "#B3ECED"]}, "legend": {"title": null, "orient": "none", "legendX": 399, "legendY": 366, "direction": "horizontal", "symbolType": "square", "symbolSize": 529, "symbolStrokeWidth": 1.2, "labelFontSize": 17, "labelColor": "#000000", "labelOffset": 0, "columnPadding": 3, "padding": 0, "symbolOpacity": 1}},
           "opacity": {"condition": {"test": "datum.g == 'Viva'", "value": 1}, "value": 0}
          }
         },
         {
          "transform": [
           {"joinaggregate": [{"op": "max", "field": "q1", "as": "q1"}, {"op": "max", "field": "q2", "as": "q2"}, {"op": "max", "field": "q3", "as": "q3"}], "groupby": ["g"]},
           {"filter": "isValid(datum.v)"},
           {"density": "v", "groupby": ["g", "q1", "q2", "q3"], "steps": 200, "resolve": "independent"},
           {"stack": "density", "groupby": ["value", "g"], "offset": "center", "as": ["x0", "x1"]},
           {"joinaggregate": [{"op": "min", "field": "value", "as": "vmin"}, {"op": "max", "field": "value", "as": "vmax"}], "groupby": ["g"]}
          ],
          "mark": {"type": "rule", "color": "#333333", "strokeWidth": 1.2},
          "encoding": {
           "y": {"field": "value", "type": "quantitative", "scale": {"domain": [-135000, 3143000], "nice": false, "zero": false}, "axis": {"title": "URL", "values": [0, 1000000, 2000000, 3000000], "format": "d", "offset": 20, "labelPadding": 4, "titlePadding": 10}},
           "x": {"field": "x0", "type": "quantitative", "scale": {"range": [51, 153], "nice": false, "zero": false}, "axis": null},
           "x2": {"field": "x1"},
           "strokeOpacity": {"condition": {"test": "datum.g == 'Viva' && (abs(datum.value-datum.q1)<=(datum.vmax-datum.vmin)/399.9 || abs(datum.value-datum.q2)<=(datum.vmax-datum.vmin)/399.9 || abs(datum.value-datum.q3)<=(datum.vmax-datum.vmin)/399.9)", "value": 1}, "value": 0}
          }
         },
         {
          "transform": [{"filter": "datum.g == 'Viva' && isValid(datum.v)"}],
          "mark": {"type": "point", "filled": true, "size": 30, "opacity": 1, "stroke": "transparent", "strokeWidth": 1.2},
          "encoding": {
           "x": {"field": "j", "type": "quantitative", "scale": {"domain": [-0.6, 0.6], "range": [-20.4, 224.4], "nice": false, "zero": false}, "axis": null},
           "y": {"field": "v", "type": "quantitative", "scale": {"domain": [-135000, 3143000], "nice": false, "zero": false}, "axis": {"title": "URL", "values": [0, 1000000, 2000000, 3000000], "format": "d", "offset": 20, "labelPadding": 4, "titlePadding": 10}},
           "fill": {"field": "g", "type": "nominal", "scale": {"domain": ["Viva", "Óbito"], "range": ["#F8766D", "#00BFC4"]}, "legend": {"title": null, "orient": "none", "legendX": 399, "legendY": 366, "direction": "horizontal", "symbolType": "M-1,-1M1,1M-0.27,0A0.27,0.27,0,1,0,0.27,0A0.27,0.27,0,1,0,-0.27,0Z", "symbolSize": 529, "symbolStrokeWidth": 1.2, "symbolStrokeColor": "transparent", "labelFontSize": 17, "labelColor": "transparent", "labelOffset": 0, "columnPadding": 3, "padding": 0, "symbolOpacity": 1}}
          }
         },
         {
          "transform": [{"aggregate": [{"op": "count", "as": "n"}]}],
          "mark": {"type": "rule", "color": "#333333", "strokeWidth": 1.3},
          "encoding": {
           "x": {"datum": -0.6, "type": "quantitative", "scale": {"domain": [-0.6, 0.6], "range": [-20.4, 224.4], "nice": false, "zero": false}, "axis": null},
           "x2": {"datum": 0.5},
           "y": {"datum": -135000, "type": "quantitative", "scale": {"domain": [-135000, 3143000], "nice": false, "zero": false}, "axis": {"title": "URL", "values": [0, 1000000, 2000000, 3000000], "format": "d", "offset": 20, "labelPadding": 4, "titlePadding": 10}}
          }
         },
         {
          "transform": [{"aggregate": [{"op": "count", "as": "n"}]}],
          "mark": {"type": "text", "fontSize": 14, "baseline": "alphabetic", "font": "Liberation Serif", "color": "#000000"},
          "encoding": {
           "x": {"datum": 0, "type": "quantitative", "scale": {"domain": [-0.6, 0.6], "range": [-20.4, 224.4], "nice": false, "zero": false}, "axis": null},
           "y": {"datum": 3014000, "type": "quantitative", "scale": {"domain": [-135000, 3143000], "nice": false, "zero": false}, "axis": {"title": "URL", "values": [0, 1000000, 2000000, 3000000], "format": "d", "offset": 20, "labelPadding": 4, "titlePadding": 10}},
           "text": {"value": "***"}
          }
         }
        ]
       },
       {
        "width": 204, "height": 299,
        "resolve": {"scale": {"x": "independent"}},
        "layer": [
         {
          "transform": [{"filter": "isValid(datum.v)"}, {"density": "v", "groupby": ["g"], "steps": 200, "resolve": "independent"}, {"stack": "density", "groupby": ["value", "g"], "offset": "center", "as": ["x0", "x1"]}],
          "mark": {"type": "area", "orient": "horizontal", "stroke": "#333333", "strokeWidth": 1.2},
          "encoding": {
           "y": {"field": "value", "type": "quantitative", "scale": {"domain": [-135000, 3143000], "nice": false, "zero": false}, "axis": null},
           "x": {"field": "x0", "type": "quantitative", "scale": {"range": [51, 153], "nice": false, "zero": false}, "axis": null},
           "x2": {"field": "x1"},
           "color": {"field": "g", "type": "nominal", "scale": {"range": ["#FDD6D3", "#B3ECED"]}, "legend": {"title": null, "orient": "none", "legendX": 399, "legendY": 366, "direction": "horizontal", "symbolType": "square", "symbolSize": 529, "symbolStrokeWidth": 1.2, "labelFontSize": 17, "labelColor": "#000000", "labelOffset": 0, "columnPadding": 3, "padding": 0, "symbolOpacity": 1}},
           "opacity": {"condition": {"test": "datum.g == 'Óbito'", "value": 1}, "value": 0}
          }
         },
         {
          "transform": [
           {"joinaggregate": [{"op": "max", "field": "q1", "as": "q1"}, {"op": "max", "field": "q2", "as": "q2"}, {"op": "max", "field": "q3", "as": "q3"}], "groupby": ["g"]},
           {"filter": "isValid(datum.v)"},
           {"density": "v", "groupby": ["g", "q1", "q2", "q3"], "steps": 200, "resolve": "independent"},
           {"stack": "density", "groupby": ["value", "g"], "offset": "center", "as": ["x0", "x1"]},
           {"joinaggregate": [{"op": "min", "field": "value", "as": "vmin"}, {"op": "max", "field": "value", "as": "vmax"}], "groupby": ["g"]}
          ],
          "mark": {"type": "rule", "color": "#333333", "strokeWidth": 1.2},
          "encoding": {
           "y": {"field": "value", "type": "quantitative", "scale": {"domain": [-135000, 3143000], "nice": false, "zero": false}, "axis": null},
           "x": {"field": "x0", "type": "quantitative", "scale": {"range": [51, 153], "nice": false, "zero": false}, "axis": null},
           "x2": {"field": "x1"},
           "strokeOpacity": {"condition": {"test": "datum.g == 'Óbito' && (abs(datum.value-datum.q1)<=(datum.vmax-datum.vmin)/399.9 || abs(datum.value-datum.q2)<=(datum.vmax-datum.vmin)/399.9 || abs(datum.value-datum.q3)<=(datum.vmax-datum.vmin)/399.9)", "value": 1}, "value": 0}
          }
         },
         {
          "transform": [{"filter": "datum.g == 'Óbito' && isValid(datum.v)"}],
          "mark": {"type": "point", "filled": true, "size": 30, "opacity": 1, "stroke": "transparent", "strokeWidth": 1.2},
          "encoding": {
           "x": {"field": "j", "type": "quantitative", "scale": {"domain": [-0.6, 0.6], "range": [-20.4, 224.4], "nice": false, "zero": false}, "axis": null},
           "y": {"field": "v", "type": "quantitative", "scale": {"domain": [-135000, 3143000], "nice": false, "zero": false}, "axis": null},
           "fill": {"field": "g", "type": "nominal", "scale": {"domain": ["Viva", "Óbito"], "range": ["#F8766D", "#00BFC4"]}, "legend": {"title": null, "orient": "none", "legendX": 399, "legendY": 366, "direction": "horizontal", "symbolType": "M-1,-1M1,1M-0.27,0A0.27,0.27,0,1,0,0.27,0A0.27,0.27,0,1,0,-0.27,0Z", "symbolSize": 529, "symbolStrokeWidth": 1.2, "symbolStrokeColor": "transparent", "labelFontSize": 17, "labelColor": "transparent", "labelOffset": 0, "columnPadding": 3, "padding": 0, "symbolOpacity": 1}}
          }
         },
         {
          "transform": [{"aggregate": [{"op": "count", "as": "n"}]}],
          "mark": {"type": "rule", "color": "#333333", "strokeWidth": 1.3},
          "encoding": {
           "x": {"datum": -0.5, "type": "quantitative", "scale": {"domain": [-0.6, 0.6], "range": [-20.4, 224.4], "nice": false, "zero": false}, "axis": null},
           "x2": {"datum": 0.6},
           "y": {"datum": -135000, "type": "quantitative", "scale": {"domain": [-135000, 3143000], "nice": false, "zero": false}, "axis": null}
          }
         }
        ]
       }
      ]
     },
     {
      "data": {"name": "BT"},
      "title": {"text": "Tecido Tumoral", "anchor": "start", "frame": "group", "fontSize": 26, "offset": 4, "dx": -26},
      "spacing": 0,
      "bounds": "flush",
      "hconcat": [
       {
        "width": 211, "height": 299,
        "resolve": {"scale": {"x": "independent"}},
        "layer": [
         {
          "transform": [{"filter": "isValid(datum.v)"}, {"density": "v", "groupby": ["g"], "steps": 200, "resolve": "independent"}, {"stack": "density", "groupby": ["value", "g"], "offset": "center", "as": ["x0", "x1"]}],
          "mark": {"type": "area", "orient": "horizontal", "stroke": "#333333", "strokeWidth": 1.2},
          "encoding": {
           "y": {"field": "value", "type": "quantitative", "scale": {"domain": [-90, 2100], "nice": false, "zero": false}, "axis": {"title": "URL/gxdL⁻¹", "values": [0, 500, 1000, 1500, 2000], "format": "d", "offset": 21, "labelPadding": 4, "titlePadding": 10}},
           "x": {"field": "x0", "type": "quantitative", "scale": {"range": [52.75, 158.25], "nice": false, "zero": false}, "axis": null},
           "x2": {"field": "x1"},
           "color": {"field": "g", "type": "nominal", "scale": {"range": ["#FDD6D3", "#B3ECED"]}, "legend": {"title": null, "orient": "none", "legendX": 399, "legendY": 366, "direction": "horizontal", "symbolType": "square", "symbolSize": 529, "symbolStrokeWidth": 1.2, "labelFontSize": 17, "labelColor": "#000000", "labelOffset": 0, "columnPadding": 3, "padding": 0, "symbolOpacity": 1}},
           "opacity": {"condition": {"test": "datum.g == 'Viva'", "value": 1}, "value": 0}
          }
         },
         {
          "transform": [
           {"joinaggregate": [{"op": "max", "field": "q1", "as": "q1"}, {"op": "max", "field": "q2", "as": "q2"}, {"op": "max", "field": "q3", "as": "q3"}], "groupby": ["g"]},
           {"filter": "isValid(datum.v)"},
           {"density": "v", "groupby": ["g", "q1", "q2", "q3"], "steps": 200, "resolve": "independent"},
           {"stack": "density", "groupby": ["value", "g"], "offset": "center", "as": ["x0", "x1"]},
           {"joinaggregate": [{"op": "min", "field": "value", "as": "vmin"}, {"op": "max", "field": "value", "as": "vmax"}], "groupby": ["g"]}
          ],
          "mark": {"type": "rule", "color": "#333333", "strokeWidth": 1.2},
          "encoding": {
           "y": {"field": "value", "type": "quantitative", "scale": {"domain": [-90, 2100], "nice": false, "zero": false}, "axis": {"title": "URL/gxdL⁻¹", "values": [0, 500, 1000, 1500, 2000], "format": "d", "offset": 21, "labelPadding": 4, "titlePadding": 10}},
           "x": {"field": "x0", "type": "quantitative", "scale": {"range": [52.75, 158.25], "nice": false, "zero": false}, "axis": null},
           "x2": {"field": "x1"},
           "strokeOpacity": {"condition": {"test": "datum.g == 'Viva' && (abs(datum.value-datum.q1)<=(datum.vmax-datum.vmin)/399.9 || abs(datum.value-datum.q2)<=(datum.vmax-datum.vmin)/399.9 || abs(datum.value-datum.q3)<=(datum.vmax-datum.vmin)/399.9)", "value": 1}, "value": 0}
          }
         },
         {
          "transform": [{"filter": "datum.g == 'Viva' && isValid(datum.v)"}],
          "mark": {"type": "point", "filled": true, "size": 30, "opacity": 1, "stroke": "transparent", "strokeWidth": 1.2},
          "encoding": {
           "x": {"field": "j", "type": "quantitative", "scale": {"domain": [-0.6, 0.6], "range": [-21.1, 232.1], "nice": false, "zero": false}, "axis": null},
           "y": {"field": "v", "type": "quantitative", "scale": {"domain": [-90, 2100], "nice": false, "zero": false}, "axis": {"title": "URL/gxdL⁻¹", "values": [0, 500, 1000, 1500, 2000], "format": "d", "offset": 21, "labelPadding": 4, "titlePadding": 10}},
           "fill": {"field": "g", "type": "nominal", "scale": {"domain": ["Viva", "Óbito"], "range": ["#F8766D", "#00BFC4"]}, "legend": {"title": null, "orient": "none", "legendX": 399, "legendY": 366, "direction": "horizontal", "symbolType": "M-1,-1M1,1M-0.27,0A0.27,0.27,0,1,0,0.27,0A0.27,0.27,0,1,0,-0.27,0Z", "symbolSize": 529, "symbolStrokeWidth": 1.2, "symbolStrokeColor": "transparent", "labelFontSize": 17, "labelColor": "transparent", "labelOffset": 0, "columnPadding": 3, "padding": 0, "symbolOpacity": 1}}
          }
         },
         {
          "transform": [{"aggregate": [{"op": "count", "as": "n"}]}],
          "mark": {"type": "rule", "color": "#333333", "strokeWidth": 1.3},
          "encoding": {
           "x": {"datum": -0.6, "type": "quantitative", "scale": {"domain": [-0.6, 0.6], "range": [-21.1, 232.1], "nice": false, "zero": false}, "axis": null},
           "x2": {"datum": 0.5},
           "y": {"datum": -90, "type": "quantitative", "scale": {"domain": [-90, 2100], "nice": false, "zero": false}, "axis": {"title": "URL/gxdL⁻¹", "values": [0, 500, 1000, 1500, 2000], "format": "d", "offset": 21, "labelPadding": 4, "titlePadding": 10}}
          }
         },
         {
          "transform": [{"aggregate": [{"op": "count", "as": "n"}]}],
          "mark": {"type": "text", "fontSize": 14, "baseline": "alphabetic", "font": "Liberation Serif", "color": "#000000"},
          "encoding": {
           "x": {"datum": 0, "type": "quantitative", "scale": {"domain": [-0.6, 0.6], "range": [-21.1, 232.1], "nice": false, "zero": false}, "axis": null},
           "y": {"datum": 2010, "type": "quantitative", "scale": {"domain": [-90, 2100], "nice": false, "zero": false}, "axis": {"title": "URL/gxdL⁻¹", "values": [0, 500, 1000, 1500, 2000], "format": "d", "offset": 21, "labelPadding": 4, "titlePadding": 10}},
           "text": {"value": "ns"}
          }
         }
        ]
       },
       {
        "width": 211, "height": 299,
        "resolve": {"scale": {"x": "independent"}},
        "layer": [
         {
          "transform": [{"filter": "isValid(datum.v)"}, {"density": "v", "groupby": ["g"], "steps": 200, "resolve": "independent"}, {"stack": "density", "groupby": ["value", "g"], "offset": "center", "as": ["x0", "x1"]}],
          "mark": {"type": "area", "orient": "horizontal", "stroke": "#333333", "strokeWidth": 1.2},
          "encoding": {
           "y": {"field": "value", "type": "quantitative", "scale": {"domain": [-90, 2100], "nice": false, "zero": false}, "axis": null},
           "x": {"field": "x0", "type": "quantitative", "scale": {"range": [52.75, 158.25], "nice": false, "zero": false}, "axis": null},
           "x2": {"field": "x1"},
           "color": {"field": "g", "type": "nominal", "scale": {"range": ["#FDD6D3", "#B3ECED"]}, "legend": {"title": null, "orient": "none", "legendX": 399, "legendY": 366, "direction": "horizontal", "symbolType": "square", "symbolSize": 529, "symbolStrokeWidth": 1.2, "labelFontSize": 17, "labelColor": "#000000", "labelOffset": 0, "columnPadding": 3, "padding": 0, "symbolOpacity": 1}},
           "opacity": {"condition": {"test": "datum.g == 'Óbito'", "value": 1}, "value": 0}
          }
         },
         {
          "transform": [
           {"joinaggregate": [{"op": "max", "field": "q1", "as": "q1"}, {"op": "max", "field": "q2", "as": "q2"}, {"op": "max", "field": "q3", "as": "q3"}], "groupby": ["g"]},
           {"filter": "isValid(datum.v)"},
           {"density": "v", "groupby": ["g", "q1", "q2", "q3"], "steps": 200, "resolve": "independent"},
           {"stack": "density", "groupby": ["value", "g"], "offset": "center", "as": ["x0", "x1"]},
           {"joinaggregate": [{"op": "min", "field": "value", "as": "vmin"}, {"op": "max", "field": "value", "as": "vmax"}], "groupby": ["g"]}
          ],
          "mark": {"type": "rule", "color": "#333333", "strokeWidth": 1.2},
          "encoding": {
           "y": {"field": "value", "type": "quantitative", "scale": {"domain": [-90, 2100], "nice": false, "zero": false}, "axis": null},
           "x": {"field": "x0", "type": "quantitative", "scale": {"range": [52.75, 158.25], "nice": false, "zero": false}, "axis": null},
           "x2": {"field": "x1"},
           "strokeOpacity": {"condition": {"test": "datum.g == 'Óbito' && (abs(datum.value-datum.q1)<=(datum.vmax-datum.vmin)/399.9 || abs(datum.value-datum.q2)<=(datum.vmax-datum.vmin)/399.9 || abs(datum.value-datum.q3)<=(datum.vmax-datum.vmin)/399.9)", "value": 1}, "value": 0}
          }
         },
         {
          "transform": [{"filter": "datum.g == 'Óbito' && isValid(datum.v)"}],
          "mark": {"type": "point", "filled": true, "size": 30, "opacity": 1, "stroke": "transparent", "strokeWidth": 1.2},
          "encoding": {
           "x": {"field": "j", "type": "quantitative", "scale": {"domain": [-0.6, 0.6], "range": [-21.1, 232.1], "nice": false, "zero": false}, "axis": null},
           "y": {"field": "v", "type": "quantitative", "scale": {"domain": [-90, 2100], "nice": false, "zero": false}, "axis": null},
           "fill": {"field": "g", "type": "nominal", "scale": {"domain": ["Viva", "Óbito"], "range": ["#F8766D", "#00BFC4"]}, "legend": {"title": null, "orient": "none", "legendX": 399, "legendY": 366, "direction": "horizontal", "symbolType": "M-1,-1M1,1M-0.27,0A0.27,0.27,0,1,0,0.27,0A0.27,0.27,0,1,0,-0.27,0Z", "symbolSize": 529, "symbolStrokeWidth": 1.2, "symbolStrokeColor": "transparent", "labelFontSize": 17, "labelColor": "transparent", "labelOffset": 0, "columnPadding": 3, "padding": 0, "symbolOpacity": 1}}
          }
         },
         {
          "transform": [{"aggregate": [{"op": "count", "as": "n"}]}],
          "mark": {"type": "rule", "color": "#333333", "strokeWidth": 1.3},
          "encoding": {
           "x": {"datum": -0.5, "type": "quantitative", "scale": {"domain": [-0.6, 0.6], "range": [-21.1, 232.1], "nice": false, "zero": false}, "axis": null},
           "x2": {"datum": 0.595},
           "y": {"datum": -90, "type": "quantitative", "scale": {"domain": [-90, 2100], "nice": false, "zero": false}, "axis": null}
          }
         }
        ]
       }
      ]
     }
    ]
   }
  ]
 }
]
}
